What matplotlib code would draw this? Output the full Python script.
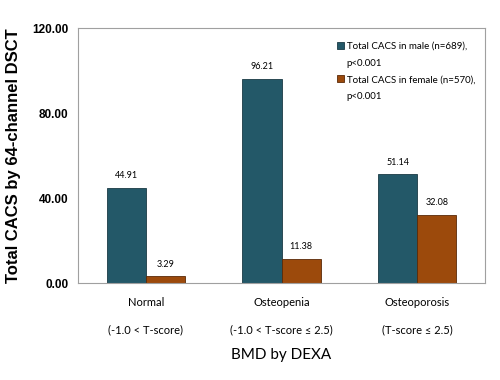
import matplotlib
matplotlib.use("Agg")
import matplotlib.pyplot as plt
from matplotlib.patches import Rectangle
import numpy as np

categories = ["Normal\n\n(-1.0 < T-score)", "Osteopenia\n\n(-1.0 < T-score ≤ 2.5)", "Osteoporosis\n\n(T-score ≤ 2.5)"]
male = [44.91, 96.21, 51.14]
female = [3.29, 11.38, 32.08]
yticks = [0, 40, 80, 120]

male_color = "#235868"
female_color = "#9c4a0c"

fig = plt.figure(figsize=(5, 3.8), dpi=100)
ax = fig.add_axes([0.156, 0.255, 0.814, 0.671])

x = np.arange(len(categories))
w = 0.288
b1 = ax.bar(x - w/2, male, w, color=male_color, edgecolor="#1a3a44", linewidth=0.6)
b2 = ax.bar(x + w/2, female, w, color=female_color, edgecolor="#5a2a08", linewidth=0.6)

for bars, vals in ((b1, male), (b2, female)):
    for r, v in zip(bars, vals):
        ax.text(r.get_x() + r.get_width()/2, v + 3.5, "%.2f" % v, ha="center", va="bottom",
                fontsize=6.5, family="Lato")

ax.set_xlim(-0.5, 2.5)
ax.set_ylim(0, 120)
ax.set_yticks(yticks)
ax.set_yticklabels(["%.2f" % t for t in yticks], fontsize=8.5, fontweight="bold", family="Liberation Sans")
ax.set_xticks(x)
ax.set_xticklabels(categories, fontsize=8, family="Lato", linespacing=1.3)
ax.tick_params(axis="both", length=0, pad=7)
ax.tick_params(axis="x", pad=10)
for s in ax.spines.values():
    s.set_color("#a0a0a0")
    s.set_linewidth(0.8)

ax.set_ylabel("Total CACS by 64-channel DSCT", fontsize=12, fontweight="bold",
              family="Liberation Sans", labelpad=8)
ax.set_xlabel("BMD by DEXA", fontsize=11, family="Lato", labelpad=9)

# legend: one line per entry so the spacing matches the original
blank = Rectangle((0, 0), 0, 0, alpha=0)
handles = [b1, blank, b2, blank]
labels = ["Total CACS in male (n=689),", "p<0.001", "Total CACS in female (n=570),", "p<0.001"]
ax.legend(handles, labels, loc="upper left", bbox_to_anchor=(0.615, 0.98), frameon=False,
          prop={"family": "Lato", "size": 7}, handlelength=0.7, handleheight=0.7,
          handletextpad=0.3, labelspacing=0.78)

fig.savefig("out.png", dpi=100)
